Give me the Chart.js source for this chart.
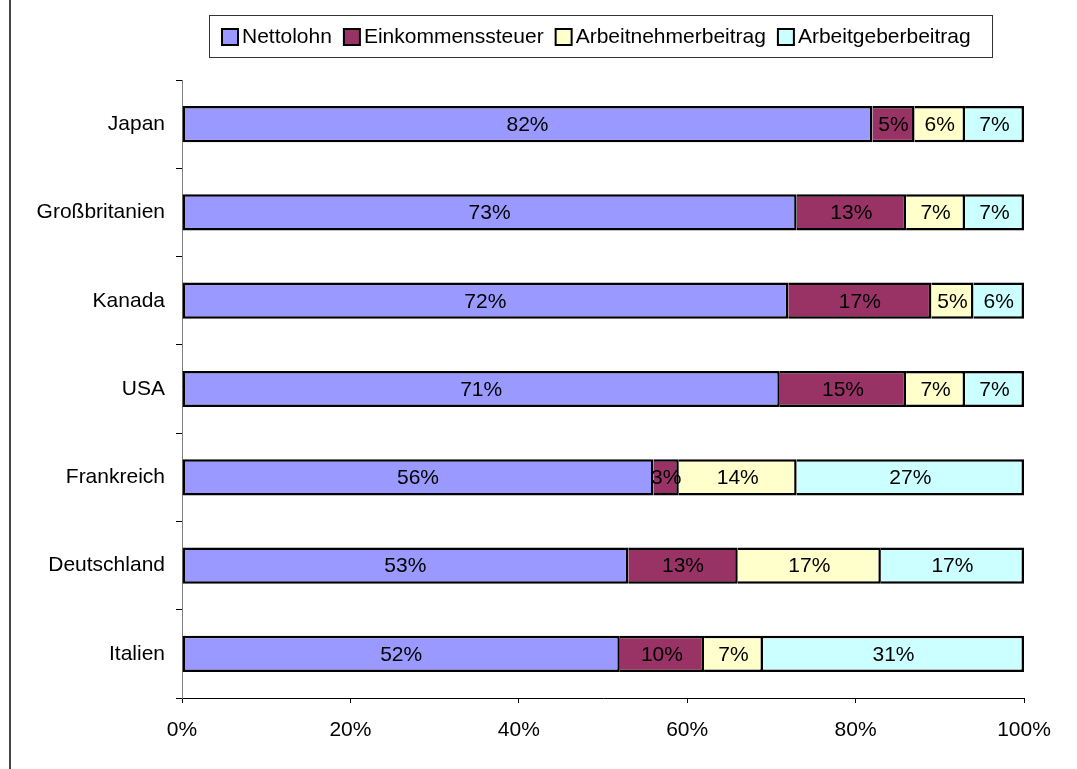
<!DOCTYPE html>
<html>
<head>
<meta charset="utf-8">
<script src="https://cdn.jsdelivr.net/npm/chart.js@4"></script>
<style>
  body { margin: 0; background: #fff; }
  canvas { display: block; }
</style>
</head>
<body>
<canvas id="myChart" width="1077" height="769"></canvas>
<script>
const categories = ['Japan', 'Großbritanien', 'Kanada', 'USA', 'Frankreich', 'Deutschland', 'Italien'];
const seriesNames = ['Nettolohn', 'Einkommenssteuer', 'Arbeitnehmerbeitrag', 'Arbeitgeberbeitrag'];
const nettolohn = [82, 73, 72, 71, 56, 53, 52];
const einkommenssteuer = [5, 13, 17, 15, 3, 13, 10];
const arbeitnehmer = [6, 7, 5, 7, 14, 17, 7];
const arbeitgeber = [7, 7, 6, 7, 27, 17, 31];
const xTicks = [0, 20, 40, 60, 80, 100];

const colors = ['#9999FF', '#993366', '#FFFFCC', '#CCFFFF'];
const FONT = "'Liberation Sans', Arial, sans-serif";

// labels in the middle of each segment
const segmentLabels = {
  id: 'segmentLabels',
  afterDatasetsDraw(chart) {
    const ctx = chart.ctx;
    ctx.save();
    ctx.font = '21px ' + FONT;
    ctx.fillStyle = '#000';
    ctx.textAlign = 'center';
    ctx.textBaseline = 'middle';
    chart.data.datasets.forEach((ds, i) => {
      chart.getDatasetMeta(i).data.forEach((bar, j) => {
        ctx.fillText(ds.data[j] + '%', (bar.x + bar.base) / 2, bar.y + 1);
      });
    });
    ctx.restore();
  }
};

// excel-like framed legend + outer frame
const boxLegend = {
  id: 'boxLegend',
  afterDraw(chart) {
    const ctx = chart.ctx;
    ctx.save();
    ctx.strokeStyle = '#444';
    ctx.lineWidth = 2;
    ctx.beginPath();
    ctx.moveTo(10, 0);
    ctx.lineTo(10, 769);
    ctx.stroke();

    ctx.lineWidth = 1;
    ctx.strokeStyle = '#333';
    ctx.strokeRect(209.5, 15.5, 783, 42);

    ctx.font = '21px ' + FONT;
    ctx.textBaseline = 'middle';
    ctx.textAlign = 'left';
    let x = 222;
    const cy = 37;
    seriesNames.forEach((name, i) => {
      ctx.fillStyle = colors[i];
      ctx.fillRect(x, cy - 8, 16, 16);
      ctx.strokeStyle = '#000';
      ctx.lineWidth = 2;
      ctx.strokeRect(x, cy - 8, 16, 16);
      ctx.fillStyle = '#000';
      ctx.fillText(name, x + 20, cy);
      x += 20 + ctx.measureText(name).width + 12;
    });
    ctx.restore();
  }
};

const datasets = [nettolohn, einkommenssteuer, arbeitnehmer, arbeitgeber].map((d, i) => ({
  label: seriesNames[i],
  data: d,
  backgroundColor: colors[i],
  borderColor: '#000',
  borderWidth: 2.5,
  borderSkipped: i === 0 ? false : 'start',
  categoryPercentage: 1,
  barPercentage: 0.41
}));

new Chart(document.getElementById('myChart').getContext('2d'), {
  type: 'bar',
  data: { labels: categories, datasets: datasets },
  options: {
    indexAxis: 'y',
    responsive: false,
    animation: false,
    layout: { padding: { top: 80, right: 53, left: 0, bottom: 0 } },
    plugins: {
      legend: { display: false },
      tooltip: { enabled: false }
    },
    scales: {
      x: {
        stacked: true,
        min: 0,
        max: 100,
        afterFit: s => { s.height = 71; },
        afterBuildTicks: s => { s.ticks = xTicks.map(v => ({ value: v })); },
        ticks: {
          callback: v => v + '%',
          color: '#000',
          font: { family: FONT, size: 21 },
          padding: 15
        },
        grid: { drawOnChartArea: false, drawTicks: true, tickLength: 5, color: '#000' },
        border: { display: true, color: '#000', width: 1 }
      },
      y: {
        stacked: true,
        afterFit: s => { s.width = 182; },
        ticks: {
          color: '#000',
          font: { family: FONT, size: 21 },
          padding: 11
        },
        grid: { drawOnChartArea: false, drawTicks: true, tickLength: 6, color: '#000', offset: true },
        border: { display: true, color: '#808080', width: 1 }
      }
    }
  },
  plugins: [segmentLabels, boxLegend]
});
</script>
</body>
</html>
